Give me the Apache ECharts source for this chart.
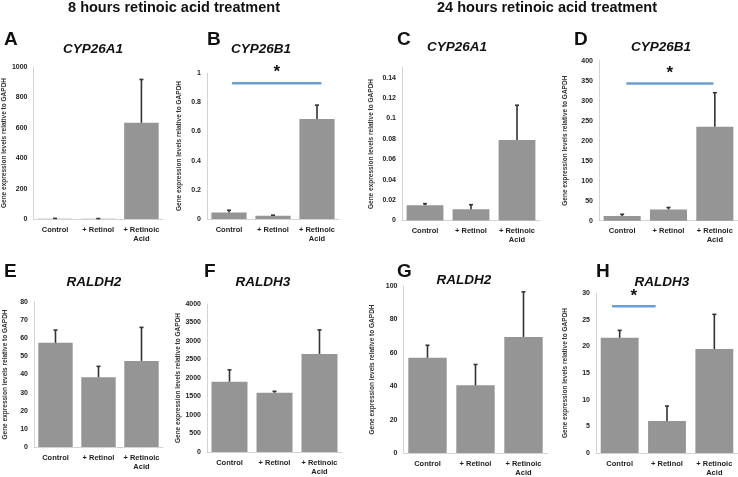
<!DOCTYPE html>
<html><head><meta charset="utf-8">
<script src="https://cdn.jsdelivr.net/npm/echarts@6/dist/echarts.min.js"></script>
<style>html,body{margin:0;padding:0;background:#fff}#c{width:738px;height:477px}</style>
</head><body><div id="c"></div>
<script>
// ---- data ----
const categories = ['Control', '+ Retinol', '+ Retinoic\nAcid'];
const sectionTitles = ['8 hours retinoic acid treatment', '24 hours retinoic acid treatment'];
const panelLetters = ['A', 'B', 'C', 'D', 'E', 'F', 'G', 'H'];
const geneNames = ['CYP26A1', 'CYP26B1', 'CYP26A1', 'CYP26B1', 'RALDH2', 'RALDH3', 'RALDH2', 'RALDH3'];
const yAxisTitle = 'Gene expression levels relative to GAPDH';

const meanA = [2, 2, 633];        const errTopA = [4, 3, 918];
const meanB = [0.045, 0.022, 0.685]; const errTopB = [0.06, 0.026, 0.78];
const meanC = [0.015, 0.011, 0.079]; const errTopC = [0.0165, 0.0155, 0.113];
const meanD = [12, 28, 235];      const errTopD = [16, 33, 320];
const meanE = [57.5, 38.5, 47.5]; const errTopE = [64.5, 44.5, 66];
const meanF = [1900, 1600, 2650]; const errTopF = [2220, 1640, 3300];
const meanG = [57, 40.5, 69.5];   const errTopG = [64.5, 53, 96.5];
const meanH = [21.6, 6, 19.5];    const errTopH = [23, 8.8, 26];

const yMax = [1000, 1, 0.15, 400, 80, 4000, 100, 30];
const yInterval = [200, 0.2, 0.02, 50, 10, 500, 20, 5];

// significance bars: panel index, from/to category position, y value
const sigPanel = [1, 3, 7];
const sigFrom = [0.07, 0.09, -0.16];
const sigTo = [2.1, 1.97, 0.76];
const sigY = [0.93, 343, 27.5];

// ---- layout ----
const means = [meanA, meanB, meanC, meanD, meanE, meanF, meanG, meanH];
const tops = [errTopA, errTopB, errTopC, errTopD, errTopE, errTopF, errTopG, errTopH];
const grids = [
  {left: 28, top: 67, width: 135, height: 152},
  {left: 207, top: 73, width: 132, height: 146},
  {left: 402, top: 67.5, width: 138, height: 153},
  {left: 599, top: 60.7, width: 140, height: 160},
  {left: 34, top: 302, width: 129, height: 145},
  {left: 207, top: 304, width: 135, height: 148},
  {left: 403.5, top: 286, width: 144, height: 168},
  {left: 596, top: 293, width: 143, height: 163}
];
const nameGaps = [19, 24, 27, 30, 25, 24, 28, 27];
const letterPos = [[4, 30], [207, 30], [397, 30], [574, 30], [4, 262], [204, 262], [397, 262], [596, 262]];
const genePos = [[93, 49], [261, 49], [457, 47], [661, 47], [94, 282], [263, 282], [464, 280], [662, 282]];
const FF = '"Liberation Sans", Arial, sans-serif';

const fmt = v => String(+v.toFixed(4));

const option = {
  animation: false,
  backgroundColor: '#fff',
  grid: grids,
  xAxis: grids.map((g, i) => ({
    type: 'category', gridIndex: i, data: categories,
    axisLine: {lineStyle: {color: '#d4d4d4', width: 1}},
    axisTick: {show: false},
    axisLabel: {fontFamily: FF, fontSize: 7.5, fontWeight: 'bold', color: '#222', margin: 6, lineHeight: 9, interval: 0}
  })),
  yAxis: grids.map((g, i) => ({
    type: 'value', gridIndex: i, min: 0, max: yMax[i], interval: yInterval[i],
    name: yAxisTitle, nameLocation: 'middle', nameGap: nameGaps[i], nameRotate: 90,
    nameTextStyle: {fontFamily: FF, fontSize: 6.5, fontWeight: 'bold', color: '#333'},
    axisLine: {show: true, lineStyle: {color: '#d4d4d4', width: 1}},
    axisTick: {show: false},
    splitLine: {show: false},
    axisLabel: {fontFamily: FF, fontSize: 7, fontWeight: 'bold', color: '#222', margin: 6,
      formatter: fmt, showMaxLabel: i !== 2}
  })),
  graphic: [
    {type: 'text', x: 174, y: 8, style: {text: sectionTitles[0], font: 'bold 14.5px ' + FF, fill: '#111', textAlign: 'center', textVerticalAlign: 'middle'}},
    {type: 'text', x: 547, y: 8, style: {text: sectionTitles[1], font: 'bold 14.5px ' + FF, fill: '#111', textAlign: 'center', textVerticalAlign: 'middle'}}
  ].concat(panelLetters.map((l, i) => ({
    type: 'text', x: letterPos[i][0], y: letterPos[i][1],
    style: {text: l, font: 'bold 19px ' + FF, fill: '#111'}
  }))).concat(geneNames.map((n, i) => ({
    type: 'text', x: genePos[i][0], y: genePos[i][1],
    style: {text: n, font: 'italic bold 13.5px ' + FF, fill: '#111', textAlign: 'center', textVerticalAlign: 'middle'}
  }))),
  series: []
};

means.forEach((m, i) => {
  option.series.push({
    type: 'bar', xAxisIndex: i, yAxisIndex: i, data: m,
    barCategoryGap: '20%',
    itemStyle: {color: '#959595'}
  });
  option.series.push({
    type: 'custom', xAxisIndex: i, yAxisIndex: i,
    data: m.map((v, k) => [k, v, tops[i][k]]),
    renderItem: (params, api) => {
      const p0 = api.coord([api.value(0), api.value(1)]);
      const p1 = api.coord([api.value(0), api.value(2)]);
      const st = {stroke: '#333', lineWidth: 1.6};
      return {type: 'group', children: [
        {type: 'line', shape: {x1: p0[0], y1: p0[1], x2: p1[0], y2: p1[1]}, style: st},
        {type: 'line', shape: {x1: p1[0] - 2, y1: p1[1], x2: p1[0] + 2, y2: p1[1]}, style: st}
      ]};
    },
    z: 5
  });
});

sigPanel.forEach((pi, j) => {
  option.series.push({
    type: 'custom', xAxisIndex: pi, yAxisIndex: pi,
    data: [[sigFrom[j], sigTo[j], sigY[j]]],
    renderItem: (params, api) => {
      const c0 = api.coord([0, api.value(2)]);
      const band = api.size([1, 0])[0];
      const xa = c0[0] + api.value(0) * band;
      const xb = c0[0] + api.value(1) * band;
      return {type: 'group', children: [
        {type: 'line', shape: {x1: xa, y1: c0[1], x2: xb, y2: c0[1]}, style: {stroke: '#6b9fd4', lineWidth: 2.5}},
        {type: 'text', x: (xa + xb) / 2, y: c0[1] - 2, style: {text: '*', font: 'bold 17px ' + FF, fill: '#111', textAlign: 'center', textVerticalAlign: 'bottom'}}
      ]};
    },
    z: 6
  });
});

const chart = echarts.init(document.getElementById('c'), null, {renderer: 'canvas'});
chart.setOption(option);
</script>
</body></html>
